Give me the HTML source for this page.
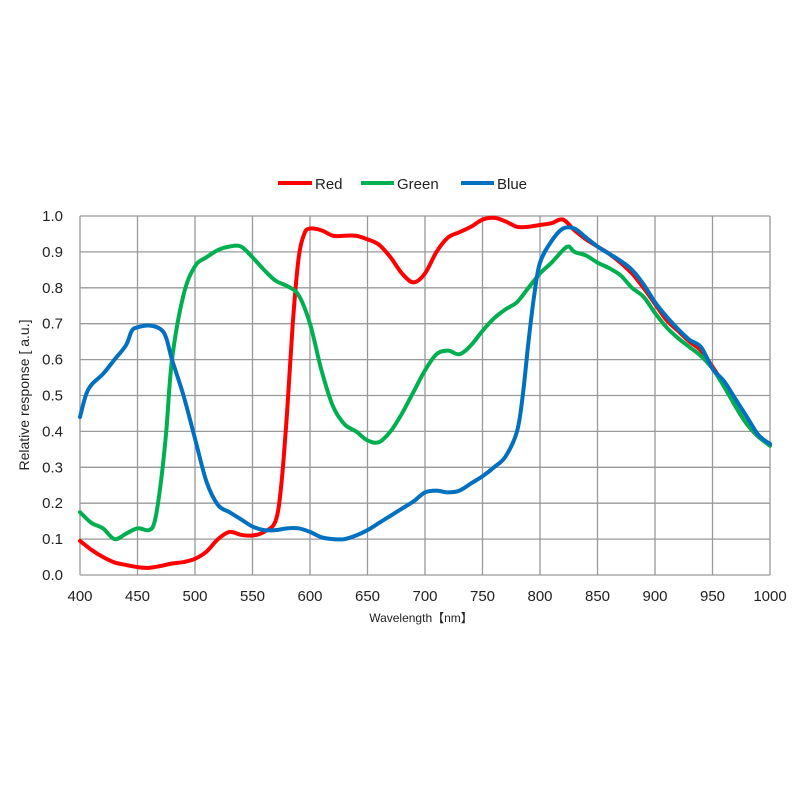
<!DOCTYPE html>
<html><head><meta charset="utf-8"><style>
html,body{margin:0;padding:0;background:#fff;}
svg text{font-family:"Liberation Sans","Noto Sans CJK JP",sans-serif;fill:#222;}
</style></head><body>
<svg id="s" width="800" height="800" viewBox="0 0 800 800" xmlns="http://www.w3.org/2000/svg">
<g id="grid" stroke="#999" stroke-width="1.3" fill="none"></g>
<g id="lbl" font-size="15"></g>
<g id="series" fill="none" stroke-width="4" stroke-linejoin="round" stroke-linecap="round"></g>
<g font-size="15">
<line x1="278" y1="183" x2="312" y2="183" stroke="#ff0000" stroke-width="4"/><text x="315" y="189">Red</text>
<line x1="361" y1="183" x2="394" y2="183" stroke="#00b050" stroke-width="4"/><text x="397" y="189">Green</text>
<line x1="461" y1="183" x2="494" y2="183" stroke="#0070c0" stroke-width="4"/><text x="497" y="189">Blue</text>
</g>
<text x="421" y="622" font-size="12" text-anchor="middle">Wavelength【nm】</text>
<text transform="translate(29,395) rotate(-90)" font-size="14" text-anchor="middle">Relative response [ a.u.]</text>
</svg>
<script>
var L=80,R=770,T=216,B=575;
function X(n){return L+(n-400)/600*(R-L);}
function Y(v){return B-v*(B-T);}
var g=document.getElementById('grid'),lb=document.getElementById('lbl'),ns='http://www.w3.org/2000/svg';
var h='',t='';
for(var n=400;n<=1000;n+=50){h+='<line x1="'+X(n)+'" y1="'+T+'" x2="'+X(n)+'" y2="'+B+'"/>';t+='<text x="'+X(n)+'" y="601" text-anchor="middle">'+n+'</text>';}
for(var i=0;i<=10;i++){var v=i/10;h+='<line x1="'+L+'" y1="'+Y(v)+'" x2="'+R+'" y2="'+Y(v)+'"/>';t+='<text x="63" y="'+(Y(v)+5)+'" text-anchor="end">'+v.toFixed(1)+'</text>';}
g.innerHTML=h;lb.innerHTML=t;
var red=[400,.095,410,.07,420,.05,430,.035,440,.028,450,.022,460,.02,470,.025,480,.032,490,.036,500,.045,510,.065,520,.1,530,.12,540,.112,550,.11,560,.12,570,.15,575,.25,580,.45,585,.7,590,.88,595,.95,600,.965,610,.96,620,.945,630,.945,640,.945,650,.935,660,.92,670,.885,680,.84,690,.815,700,.84,710,.9,720,.94,730,.955,740,.97,750,.99,760,.995,770,.985,780,.97,790,.97,800,.975,810,.98,820,.99,830,.96,840,.935,850,.915,860,.895,870,.87,880,.84,890,.8,900,.755,910,.71,920,.68,930,.65,940,.625,950,.58,960,.53,970,.47,980,.42,990,.385,1000,.365];
var green=[400,.175,410,.145,420,.13,430,.1,440,.115,450,.13,460,.125,465,.15,470,.25,475,.4,480,.6,490,.78,500,.86,510,.885,520,.905,530,.915,540,.915,550,.885,560,.85,570,.82,580,.805,590,.78,600,.7,610,.57,620,.47,630,.42,640,.4,650,.375,660,.37,670,.4,680,.45,690,.51,700,.57,710,.615,720,.625,730,.615,740,.64,750,.68,760,.715,770,.74,780,.76,790,.8,800,.84,810,.87,820,.905,825,.915,830,.9,840,.89,850,.87,860,.855,870,.835,880,.8,890,.775,900,.73,910,.69,920,.66,930,.635,940,.61,950,.575,960,.525,970,.47,980,.42,990,.385,1000,.36];
var blue=[400,.44,405,.5,410,.53,420,.56,430,.6,440,.64,445,.68,450,.69,460,.695,470,.685,475,.66,480,.6,490,.5,500,.38,510,.26,520,.195,530,.175,540,.155,550,.135,560,.125,570,.125,580,.13,590,.13,600,.12,610,.105,620,.1,630,.1,640,.11,650,.125,660,.145,670,.165,680,.185,690,.205,700,.23,710,.235,720,.23,730,.235,740,.255,750,.275,760,.3,770,.33,780,.4,785,.5,790,.65,795,.78,800,.87,810,.93,820,.965,830,.965,840,.94,850,.915,860,.895,870,.875,880,.85,890,.81,900,.76,910,.72,920,.685,930,.655,940,.635,950,.575,960,.54,970,.49,980,.44,990,.39,1000,.365];
function path(d){var p=[];for(var i=0;i<d.length;i+=2)p.push([X(d[i]),Y(d[i+1])]);
var s='M'+p[0][0]+','+p[0][1];
for(var i=0;i<p.length-1;i++){var p0=p[i-1]||p[i],p1=p[i],p2=p[i+1],p3=p[i+2]||p2;
s+=' C'+(p1[0]+(p2[0]-p0[0])/6)+','+(p1[1]+(p2[1]-p0[1])/6)+' '+(p2[0]-(p3[0]-p1[0])/6)+','+(p2[1]-(p3[1]-p1[1])/6)+' '+p2[0]+','+p2[1];}
return s;}
var se=document.getElementById('series');
se.innerHTML='<path stroke="#ff0000" d="'+path(red)+'"/><path stroke="#00b050" d="'+path(green)+'"/><path stroke="#0070c0" d="'+path(blue)+'"/>';
</script>
</body></html>
